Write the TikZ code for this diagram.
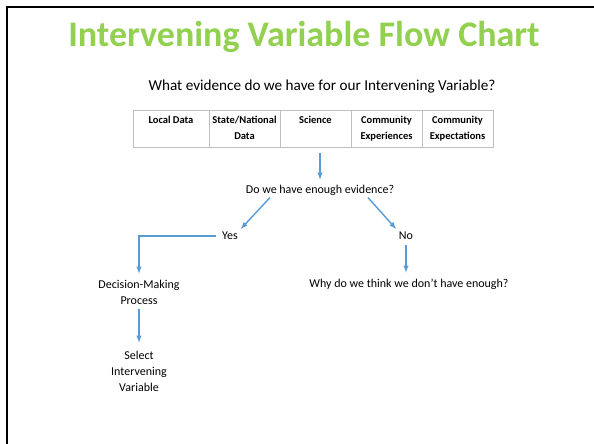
\documentclass[tikz,border=0pt]{standalone}
\usepackage{fontspec}
\setmainfont{Carlito}
\usepackage{tikz}
\usetikzlibrary{arrows}
\definecolor{titlegreen}{RGB}{146,208,80}
\definecolor{flowblue}{RGB}{91,155,213}
\definecolor{cellgray}{RGB}{191,191,191}
\tikzset{
  txt/.style={inner sep=0pt,align=center,font=\fontsize{12}{16}\selectfont},
  cell/.style={draw=cellgray,line width=0.8pt,minimum width=71pt,minimum height=37pt,
    inner sep=0pt,align=center,anchor=north,font=\bfseries\fontsize{10.5}{16}\selectfont},
  flow/.style={-latex,draw=flowblue,line width=1.4pt}
}
\begin{document}
\begin{tikzpicture}[x=1pt,y=-1pt]
			\useasboundingbox (0,0) rectangle (594,444);
			\fill[white] (0,0) rectangle (594,444);
			\draw[line width=2.5pt] (7,444) -- (7,7) -- (594,7);
			\node[inner sep=0pt,text=titlegreen,font=\bfseries\fontsize{36}{40}\selectfont] (title) at (304,37) {Intervening Variable Flow Chart};
			\node[inner sep=0pt,font=\fontsize{15.2}{18}\selectfont] (question) at (322,87) {What evidence do we have for our Intervening Variable?};
			% evidence table
			\node[cell,minimum width=76pt] (local) at (171,109.5) {\strut Local Data\\\strut};
			\node[cell] (state) at (244.5,109.5) {\strut State/National\\\strut Data};
			\node[cell] (science) at (315.5,109.5) {\strut Science\\\strut};
			\node[cell] (exper) at (386.5,109.5) {\strut Community\\\strut Experiences};
			\node[cell] (expect) at (457.5,109.5) {\strut Community\\\strut Expectations};
			\node[txt] (enough) at (320,190) {Do we have enough evidence?};
			\node[txt] (yes) at (230,236) {Yes};
			\node[txt] (no) at (406,236) {No};
			\node[txt] (decision) at (139,292) {Decision-Making\\Process};
			\node[txt] (why) at (409,284) {Why do we think we don't have enough?};
			\node[txt] (select) at (139,371) {Select\\Intervening\\Variable};
			\draw[flow,shorten <=6pt,shorten >=5pt] (science.south -| enough.north) -- (enough.north);
			\draw[flow,shorten <=3pt,shorten >=4pt] (enough.south -| 272,0) -- (yes.north east);
			\draw[flow,shorten <=3pt,shorten >=4pt] (enough.south -| 366,0) -- (no.north west);
			\draw[flow,shorten <=6pt,shorten >=6pt] (yes.west) -| (decision.north);
			\draw[flow,shorten <=5pt,shorten >=6pt] (no.south) -- (why.north -| no.south);
			\draw[flow,shorten <=5pt,shorten >=8pt] (decision.south) -- (select.north);
		\end{tikzpicture}
\end{document}
